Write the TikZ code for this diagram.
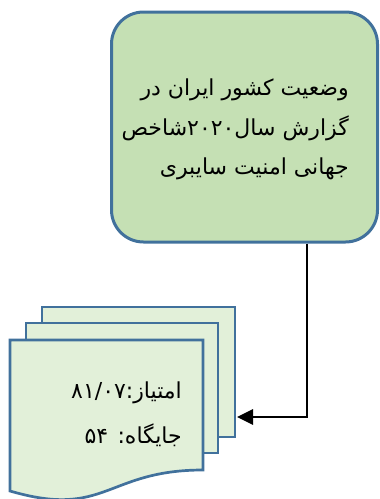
\documentclass[tikz,border=0pt]{standalone}
\usepackage{fontspec}
\usepackage{xcolor}
\usetikzlibrary{arrows.meta}
\TeXXeTstate=1
\newfontfamily\farsifont[Script=Arabic]{DejaVu Sans}

\definecolor{boxgreen}{RGB}{197,224,180}
\definecolor{sheetgreen}{RGB}{226,240,217}
\definecolor{edgeblue}{RGB}{65,113,156}

\tikzset{
  mainbox/.style={draw=edgeblue, fill=boxgreen, line width=3pt, rounded corners=32pt,
    minimum width=266pt, minimum height=230pt, inner sep=0pt},
  sheet/.style={draw=edgeblue, fill=sheetgreen, line width=2.7pt},
  farsi/.style={font=\farsifont\fontsize{22}{39.5}\selectfont, align=right, inner sep=0pt},
  arrowline/.style={line width=2.8pt, -{Triangle[length=16pt,width=15pt]}}
}

\begin{document}
\begin{tikzpicture}[x=1pt, y=-1pt]
  \useasboundingbox (0,0) rectangle (380,499);

  % main box
  \node[mainbox] (report) at (244.5,127) {};
  \node[farsi, anchor=east] (reporttext) at (349,129.5)
    {\beginR وضعیت کشور ایران در\endR\\
     \beginR گزارش سال\beginL۲۰۲۰\endL{}شاخص\endR\\
     \beginR جهانی امنیت سایبری\endR};

  % stacked sheets
  \draw[sheet] (42,307) rectangle (235,437); % back
  \draw[sheet] (26,323) rectangle (218,453); % middle
  \draw[sheet] (10,340) -- (203,340) -- (203,470)
    .. controls (106,470) and (106,519) .. (10,491) -- cycle; % front

  \node[farsi, anchor=east] (score) at (182,393)
    {\beginR امتیاز:\beginL۸۱/۰۷\endL\endR};
  \node[farsi, anchor=east] (rank) at (182,435)
    {\beginR جایگاه: \beginL۵۴\endL\endR};

  % connector
  \coordinate (drop) at (307,417);
  \coordinate (tip) at (237,417);
  \draw[arrowline] (report.south -| drop) -- (drop) -- (tip);
\end{tikzpicture}
\end{document}
